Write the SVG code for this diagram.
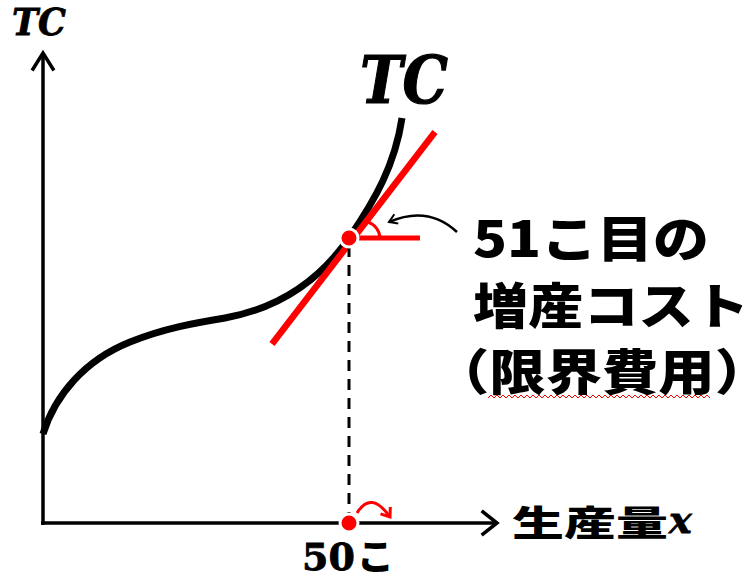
<svg xmlns="http://www.w3.org/2000/svg" width="753" height="582" viewBox="0 0 753 582">
<style>
.ax{stroke:#000;stroke-width:3.5;fill:none}
.ah{stroke:#000;stroke-width:3.5;fill:none;stroke-linecap:square}
.cv{stroke:#000;stroke-width:7;fill:none}
.rd{stroke:#f00;fill:none}
.dot{fill:#f00;stroke:#fff;stroke-width:3}
.ser{font-family:"DejaVu Serif","Liberation Serif",serif;font-weight:bold;font-style:italic;fill:#000;stroke:#000;stroke-width:0.8}
.jp{font-family:"Noto Sans CJK JP","Noto Sans",sans-serif;font-weight:900;fill:#000}
</style>
<defs>
<marker id="ka" viewBox="0 0 12 12" refX="10" refY="6" markerWidth="12" markerHeight="12" markerUnits="userSpaceOnUse" orient="auto">
<path d="M2,1 L10,6 L2,11" fill="none" stroke="#000" stroke-width="2"/>
</marker>
<marker id="ra" viewBox="0 0 14 14" refX="11" refY="7" markerWidth="14" markerHeight="14" markerUnits="userSpaceOnUse" orient="auto">
<path d="M3,1 L11,7 L3,13" fill="none" stroke="#f00" stroke-width="3"/>
</marker>
</defs>
<g id="axes">
<line class="ax" x1="43" y1="525" x2="43" y2="53"/>
<path class="ah" d="M33,69 L43,53 L53,69"/>
<line class="ax" x1="41" y1="523" x2="495" y2="523"/>
<path class="ah" d="M483,512 L497,523 L483,534"/>
</g>
<g id="labels-axes">
<text class="ser" x="12" y="35" font-size="37" textLength="54" lengthAdjust="spacingAndGlyphs">TC</text>
<text class="jp" x="512" y="536" font-size="35" textLength="156" lengthAdjust="spacingAndGlyphs">生産量</text>
<text class="ser" x="669" y="533" font-size="38">x</text>
</g>
<g id="tc-curve">
<path class="cv" d="M43,434 C55,395 85,360 130,342 C165,328 195,323 225,318 C280,308 320,280 349,238 C375,200 395,165 402,118"/>
<text class="ser" x="360" y="103" font-size="66" textLength="88" lengthAdjust="spacingAndGlyphs" style="stroke-width:1.2">TC</text>
</g>
<g id="tangent">
<line class="rd" stroke-width="6.5" x1="272" y1="344" x2="435" y2="132"/>
<line class="rd" stroke-width="5" x1="352" y1="238" x2="420" y2="238"/>
<path class="rd" stroke-width="3" d="M368,222 A18,18 0 0 1 380,238"/>
</g>
<g id="connectors">
<line x1="349" y1="246" x2="349" y2="520" stroke="#000" stroke-width="3" stroke-dasharray="11,8"/>
<path d="M457,232 Q428,205 389,222" fill="none" stroke="#000" stroke-width="2.5" marker-end="url(#ka)"/>
<path class="rd" stroke-width="3" d="M357,513 Q371,490 390,517" marker-end="url(#ra)"/>
</g>
<g id="point-51">
<circle class="dot" cx="349" cy="238" r="9"/>
</g>
<g id="point-50">
<circle class="dot" cx="349" cy="523" r="9"/>
<text x="302" y="570" font-family="DejaVu Serif,serif" font-weight="bold" font-size="38" stroke="#000" stroke-width="0.8">50</text>
<text class="jp" x="357" y="570" font-size="36" textLength="37" lengthAdjust="spacingAndGlyphs">こ</text>
</g>
<g id="annotation">
<text class="jp" x="473" y="257" font-size="49" textLength="236" lengthAdjust="spacingAndGlyphs">51こ目の</text>
<text class="jp" x="473" y="324" font-size="49" textLength="276" lengthAdjust="spacingAndGlyphs">増産コスト</text>
<text class="jp" x="433" y="390" font-size="49" textLength="338" lengthAdjust="spacingAndGlyphs">（限界費用）</text>
<polyline fill="none" stroke="#f00" stroke-width="1" points="488,398 491,395 494,398 497,395 500,398 503,395 506,398 509,395 512,398 515,395 518,398 521,395 524,398 527,395 530,398 533,395 536,398 539,395 542,398 545,395 548,398 551,395 554,398 557,395 560,398 563,395 566,398 569,395 572,398 575,395 578,398 581,395 584,398 587,395 590,398 593,395 596,398 599,395 602,398 605,395 608,398 611,395 614,398 617,395 620,398 623,395 626,398 629,395 632,398 635,395 638,398 641,395 644,398 647,395 650,398 653,395 656,398 659,395 662,398 665,395 668,398 671,395 674,398 677,395 680,398 683,395 686,398 689,395 692,398 695,395 698,398 701,395 704,398 707,395 710,398"/>
</g>
</svg>
